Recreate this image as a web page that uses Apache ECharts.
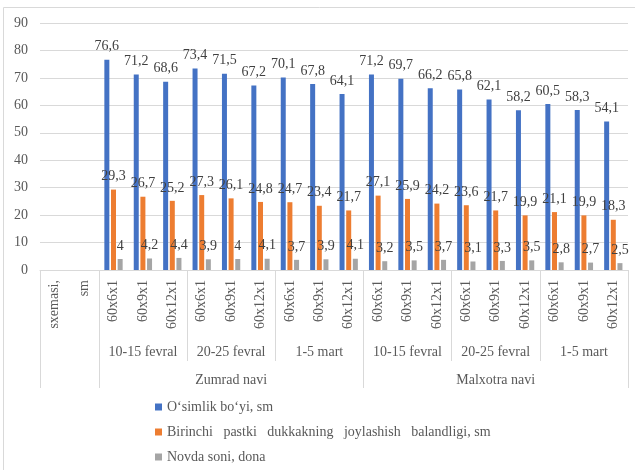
<!DOCTYPE html>
<html>
<head>
<meta charset="utf-8">
<script src="https://cdn.jsdelivr.net/npm/echarts@6/dist/echarts.min.js"></script>
<style>
  html, body { margin: 0; padding: 0; background: #fff; }
  #chart { width: 635px; height: 470px; }
</style>
</head>
<body>
<div id="chart"></div>
<script>
// kategoriyalar (ekish sxemasi)
var categories = ['sxemasi,', 'sm',
    '60x6x1', '60x9x1', '60x12x1', '60x6x1', '60x9x1', '60x12x1', '60x6x1', '60x9x1', '60x12x1',
    '60x6x1', '60x9x1', '60x12x1', '60x6x1', '60x9x1', '60x12x1', '60x6x1', '60x9x1', '60x12x1'];
var dates = ['10-15 fevral', '20-25 fevral', '1-5 mart', '10-15 fevral', '20-25 fevral', '1-5 mart'];
var varieties = ['Zumrad navi', 'Malxotra navi'];
var seriesNames = ['O‘simlik bo‘yi, sm', 'Birinchi   pastki   dukkakning   joylashish   balandligi, sm', 'Novda soni, dona'];

var heightData = ['-', '-', 76.6, 71.2, 68.6, 73.4, 71.5, 67.2, 70.1, 67.8, 64.1, 71.2, 69.7, 66.2, 65.8, 62.1, 58.2, 60.5, 58.3, 54.1];
var podData = ['-', '-', 29.3, 26.7, 25.2, 27.3, 26.1, 24.8, 24.7, 23.4, 21.7, 27.1, 25.9, 24.2, 23.6, 21.7, 19.9, 21.1, 19.9, 18.3];
var branchData = ['-', '-', 4, 4.2, 4.4, 3.9, 4, 4.1, 3.7, 3.9, 4.1, 3.2, 3.5, 3.7, 3.1, 3.3, 3.5, 2.8, 2.7, 2.5];

var colors = ['#4472C4', '#ED7D31', '#A5A5A5'];
var font = 'Liberation Serif';

// guruh markazlariga yorliq qo'yish
var dateLabels = categories.map(function (c, i) {
    var idx = [3, 6, 9, 12, 15, 18].indexOf(i);
    return idx >= 0 ? dates[idx] : '';
});
var varietyLabels = categories.map(function (c, i) {
    var idx = [6, 15].indexOf(i);
    return idx >= 0 ? varieties[idx] : '';
});

function makeBar(name, data, color) {
    return {
        name: name,
        type: 'bar',
        data: data,
        barWidth: 5,
        barGap: '33%',
        itemStyle: { color: color },
        label: {
            show: true,
            position: 'top',
            distance: 6,
            fontFamily: font,
            fontSize: 14,
            color: '#404040',
            formatter: function (p) { return String(p.value).replace('.', ','); }
        }
    };
}

var lineColor = '#d9d9d9';
var myChart = echarts.init(document.getElementById('chart'));
var option = {
    animation: false,
    textStyle: { fontFamily: font },
    grid: { left: 40, right: 7, top: 23, bottom: 200 },
    legend: {
        orient: 'vertical',
        left: 155,
        top: 400,
        height: 90,
        padding: 0,
        itemWidth: 7,
        itemHeight: 7,
        itemGap: 11,
        icon: 'rect',
        textStyle: { fontFamily: font, fontSize: 14, color: '#595959' },
        data: seriesNames
    },
    graphic: [{
        type: 'rect',
        shape: { x: 3.5, y: 7.5, width: 700, height: 500 },
        style: { fill: 'none', stroke: lineColor, lineWidth: 1 },
        silent: true
    }],
    xAxis: [{
        type: 'category',
        data: categories,
        axisLine: { lineStyle: { color: lineColor } },
        axisTick: {
            show: true, length: 118, lineStyle: { color: lineColor },
            interval: function (i) { return i === 0 || i === 2 || i === 11; }
        },
        axisLabel: {
            rotate: 90, margin: 10, interval: 0,
            fontFamily: font, fontSize: 14, color: '#595959'
        }
    }, {
        type: 'category',
        data: categories,
        position: 'bottom',
        axisLine: { show: false },
        axisTick: {
            show: true, length: 91, lineStyle: { color: lineColor },
            interval: function (i) { return i === 5 || i === 8 || i === 14 || i === 17; }
        },
        axisLabel: { show: false }
    }, {
        type: 'category',
        data: dateLabels,
        position: 'bottom',
        offset: 0,
        axisLine: { show: false },
        axisTick: { show: false },
        axisLabel: {
            interval: 0, margin: 75,
            fontFamily: font, fontSize: 14, color: '#595959'
        }
    }, {
        type: 'category',
        data: varietyLabels,
        position: 'bottom',
        offset: 0,
        axisLine: { show: false },
        axisTick: { show: false },
        axisLabel: {
            interval: 0, margin: 103,
            fontFamily: font, fontSize: 14, color: '#595959'
        }
    }],
    yAxis: {
        type: 'value',
        min: 0,
        max: 90,
        interval: 10,
        axisLine: { show: false },
        axisTick: { show: false },
        splitLine: { lineStyle: { color: lineColor } },
        axisLabel: { margin: 12, fontFamily: font, fontSize: 14, color: '#595959' }
    },
    series: [
        makeBar(seriesNames[0], heightData, colors[0]),
        makeBar(seriesNames[1], podData, colors[1]),
        makeBar(seriesNames[2], branchData, colors[2])
    ]
};
myChart.setOption(option);
</script>
</body>
</html>
